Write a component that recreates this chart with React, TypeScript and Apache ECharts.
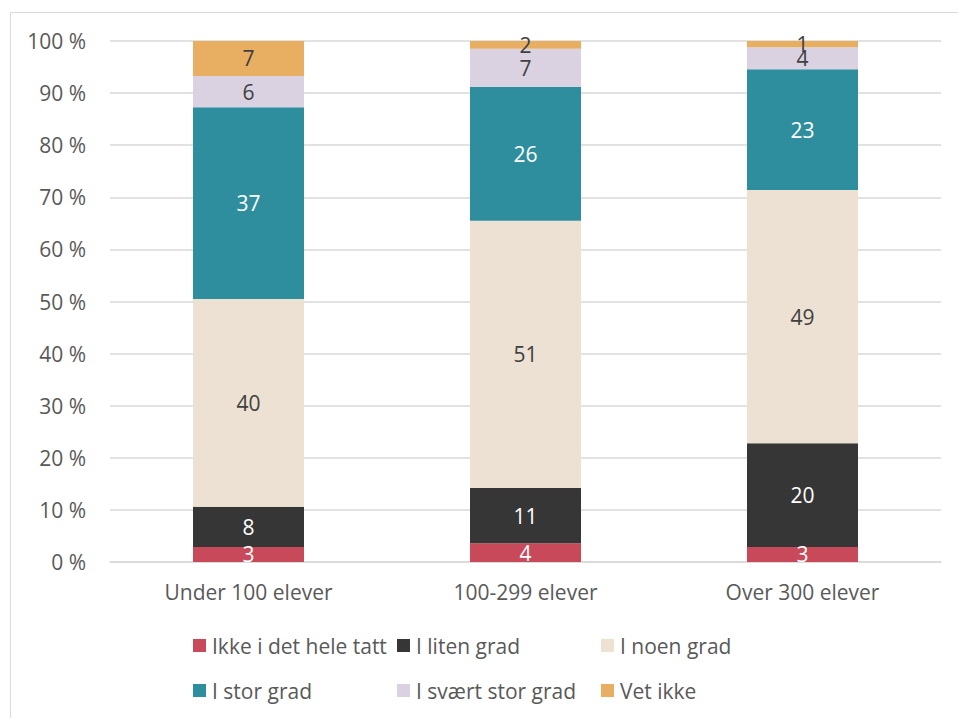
import React, { useEffect, useRef } from "react";
import * as echarts from "echarts";

const categories = ["Under 100 elever", "100-299 elever", "Over 300 elever"];
const seriesNames = ["Ikke i det hele tatt", "I liten grad", "I noen grad", "I stor grad", "I svært stor grad", "Vet ikke"];
const ikkeIDetHeleTatt = [2.9, 3.6, 2.9];
const iLitenGrad = [7.7, 10.6, 19.9];
const iNoenGrad = [39.9, 51.3, 48.6];
const iStorGrad = [36.8, 25.7, 23.2];
const iSvaertStorGrad = [6.0, 7.3, 4.2];
const vetIkke = [6.7, 1.5, 1.2];
const yTicks = [0, 10, 20, 30, 40, 50, 60, 70, 80, 90, 100];

const colors = ["#C8495A", "#363636", "#ECE1D3", "#2E8E9E", "#DAD2E0", "#E8AE62"];
const labelColors = ["#ffffff", "#ffffff", "#404040", "#ffffff", "#404040", "#404040"];
const FONT = "'Open Sans', sans-serif";
const FS = 21;

export default function App() {
  const ref = useRef<HTMLDivElement>(null);
  useEffect(() => {
    const chart = echarts.init(ref.current!, null, { renderer: "svg" });
    const values = [ikkeIDetHeleTatt, iLitenGrad, iNoenGrad, iStorGrad, iSvaertStorGrad, vetIkke];
    const legendPos = [
      [193, 635], [397, 635], [601, 635],
      [193, 680], [397, 680], [601, 680],
    ];
    const order = [0, 1, 2, 3, 4, 5];
    chart.setOption({
      animation: false,
      grid: { left: 110, right: 17, top: 41, bottom: 156 },
      legend: order.map((i) => ({
        data: [seriesNames[i]],
        left: legendPos[i][0],
        top: legendPos[i][1],
        itemWidth: 13,
        itemHeight: 13,
        icon: "rect",
        padding: 0,
        textStyle: { fontFamily: FONT, fontSize: FS, color: "#595959", lineHeight: 20, padding: [0, 0, 0, 1] },
      })),
      xAxis: {
        type: "category",
        data: categories,
        axisLine: { show: true, lineStyle: { color: "#d9d9d9", width: 1.5 } },
        axisTick: { show: false },
        axisLabel: { fontFamily: FONT, fontSize: FS, color: "#595959", margin: 19 },
      },
      yAxis: {
        type: "value",
        min: 0,
        max: 100,
        interval: 10,
        axisLine: { show: false },
        axisTick: { show: false },
        splitLine: { lineStyle: { color: "#d9d9d9", width: 1.5 } },
        axisLabel: {
          fontFamily: FONT,
          fontSize: FS,
          color: "#595959",
          margin: 24,
          formatter: (v: number) => (yTicks.includes(v) ? `${v} %` : ""),
        },
      },
      series: values.map((d, i) => ({
        name: seriesNames[i],
        type: "bar",
        stack: "total",
        barWidth: 111,
        data: d,
        itemStyle: { color: colors[i] },
        label: {
          show: true,
          position: "inside",
          fontFamily: FONT,
          fontSize: FS,
          color: labelColors[i],
          formatter: (p: any) => `${Math.round(p.value)}`,
        },
      })),
      graphic: [
        {
          type: "rect",
          shape: { x: 10.5, y: 12.5, width: 1000, height: 800 },
          style: { fill: "none", stroke: "#d9d9d9", lineWidth: 1 },
          silent: true,
        },
      ],
    });
    return () => chart.dispose();
  }, []);
  return (
    <div
      ref={ref}
      style={{ position: "fixed", left: 0, top: 0, width: 958, height: 718, background: "#fff" }}
    />
  );
}
